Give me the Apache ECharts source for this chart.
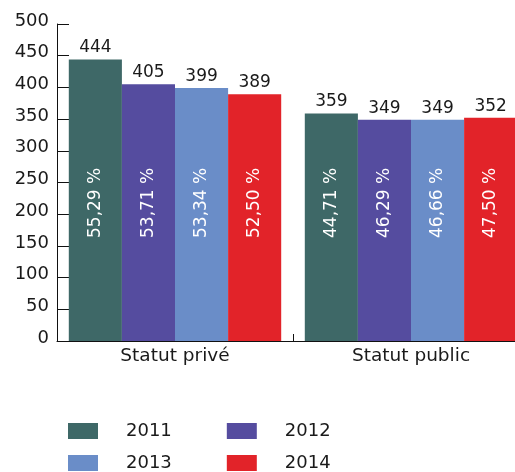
<!DOCTYPE html>
<html>
<head>
<meta charset="utf-8">
<script src="https://cdn.jsdelivr.net/npm/echarts@6/dist/echarts.min.js"></script>
<style>
  html, body { margin: 0; padding: 0; background: #fff; }
  #chart { width: 515px; height: 472px; }
</style>
</head>
<body>
<div id="chart"></div>
<script>
// Effectifs par statut et par année, avec la part (%) de chaque statut
const categories = ['Statut privé', 'Statut public'];
const years = ['2011', '2012', '2013', '2014'];
const values2011 = [444, 359];
const values2012 = [405, 349];
const values2013 = [399, 349];
const values2014 = [389, 352];
const share2011 = ['55,29 %', '44,71 %'];
const share2012 = ['53,71 %', '46,29 %'];
const share2013 = ['53,34 %', '46,66 %'];
const share2014 = ['52,50 %', '47,50 %'];
const yTicks = { min: 0, max: 500, interval: 50 };

const colors = ['#3e6867', '#554c9f', '#6a8dc8', '#e22329'];
const valueSets = [values2011, values2012, values2013, values2014];
const shareSets = [share2011, share2012, share2013, share2014];
const FONT = 'DejaVu Sans';
const INK = '#1a1a1a';

const series = [];
years.forEach((year, i) => {
  const vals = valueSets[i];
  const shares = shareSets[i];
  // visible bar, carrying the rotated percentage
  series.push({
    name: year,
    type: 'bar',
    stack: 's' + year,
    data: vals,
    barCategoryGap: '10%',
    barGap: '0%',
    itemStyle: { color: colors[i] },
    label: {
      show: true,
      position: 'insideBottom',
      rotate: 90,
      align: 'left',
      verticalAlign: 'middle',
      distance: 103,
      color: '#ffffff',
      fontFamily: FONT,
      fontSize: 17,
      formatter: p => shares[p.dataIndex]
    }
  });
  // zero-height cap on the same stack, carrying the value above the bar
  series.push({
    name: year + ' valeur',
    type: 'bar',
    stack: 's' + year,
    data: vals.map(() => 0),
    barCategoryGap: '10%',
    barGap: '0%',
    itemStyle: { color: 'transparent' },
    silent: true,
    label: {
      show: true,
      position: 'top',
      distance: 3,
      color: INK,
      fontFamily: FONT,
      fontSize: 17,
      formatter: p => String(vals[p.dataIndex])
    }
  });
});

const legendBase = {
  orient: 'horizontal',
  left: 68,
  padding: 0,
  itemWidth: 30,
  itemHeight: 16,
  itemGap: 55,
  icon: 'rect',
  selectedMode: false,
  textStyle: { fontFamily: FONT, fontSize: 18, color: INK, padding: [0, 0, 0, 23] }
};

const option = {
  animation: false,
  backgroundColor: '#ffffff',
  // the plot runs past the right edge of the canvas
  grid: { left: 57, width: 472, top: 24, bottom: 131, containLabel: false, outerBoundsMode: 'none' },
  legend: [
    Object.assign({}, legendBase, { top: 422, data: ['2011', '2012'] }),
    Object.assign({}, legendBase, { top: 454, data: ['2013', '2014'] })
  ],
  xAxis: {
    type: 'category',
    data: categories,
    axisLine: { show: true, lineStyle: { color: '#111', width: 1 } },
    axisTick: { show: true, inside: true, length: 7, lineStyle: { color: '#111' } },
    axisLabel: { color: INK, fontFamily: FONT, fontSize: 18.5, margin: 6 }
  },
  yAxis: {
    type: 'value',
    min: yTicks.min,
    max: yTicks.max,
    interval: yTicks.interval,
    axisLine: { show: true, lineStyle: { color: '#111', width: 1 } },
    axisTick: { show: true, inside: true, length: 12, lineStyle: { color: '#111' } },
    splitLine: { show: false },
    // tick labels sit slightly above their ticks
    axisLabel: { color: INK, fontFamily: FONT, fontSize: 18, margin: 8, verticalAlign: 'bottom', lineHeight: 6 }
  },
  series: series
};

const chart = echarts.init(document.getElementById('chart'), null, { renderer: 'canvas' });
chart.setOption(option);
</script>
</body>
</html>
